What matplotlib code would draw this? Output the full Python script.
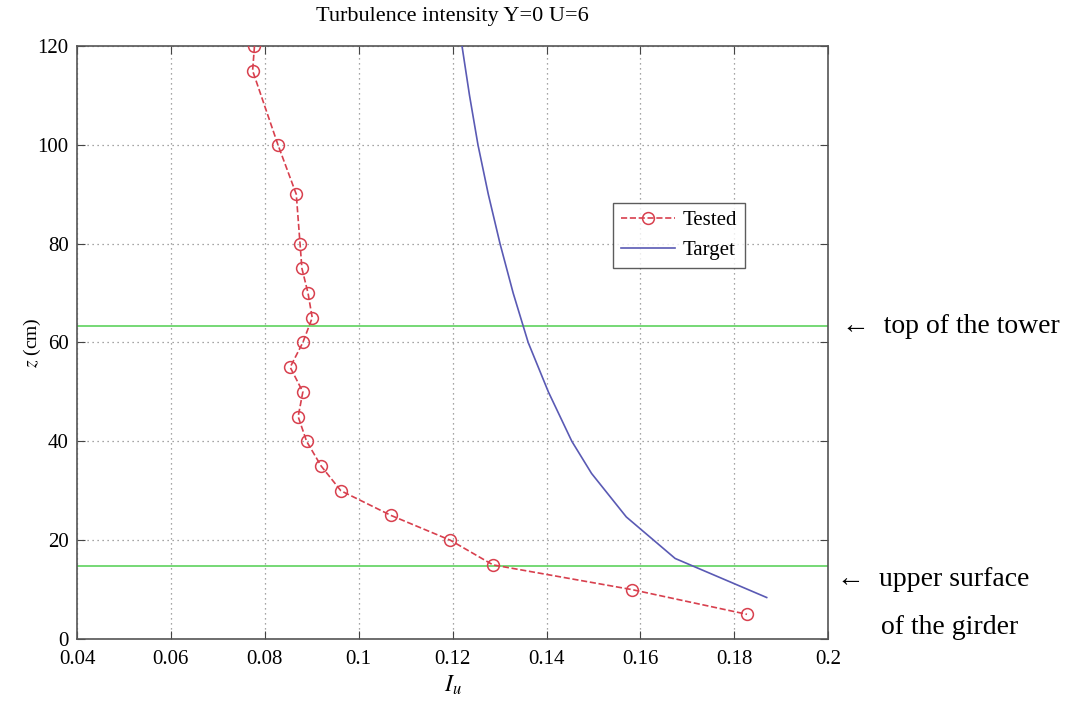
import matplotlib
matplotlib.use("Agg")
import matplotlib.pyplot as plt

# ── Data ──────────────────────────────────────────────────────────────────────
TESTED_Z  = [120, 115, 100, 90, 80, 75, 70, 65, 60, 55, 50, 45, 40, 35, 30, 25, 20, 15, 10, 5]
TESTED_IU = [0.0778, 0.0774, 0.0828, 0.0867, 0.0875, 0.0879, 0.0892, 0.0901, 0.0881, 0.0854,
             0.0881, 0.0871, 0.0889, 0.0920, 0.0962, 0.1069, 0.1195, 0.1286, 0.1582, 0.1827]

TARGET_Z  = [120, 110, 100, 90, 80, 70, 60, 50, 40, 33.5, 24.7, 16.3, 8.4]
TARGET_IU = [0.1220, 0.1236, 0.1254, 0.1276, 0.1301, 0.1329, 0.1361, 0.1404, 0.1454,
             0.1496, 0.1570, 0.1674, 0.1869]

TOWER_TOP_Z    = 63.3
GIRDER_SURF_Z  = 14.8

X_TICKS = [0.04, 0.06, 0.08, 0.1, 0.12, 0.14, 0.16, 0.18, 0.2]
X_TICK_LABELS = ["0.04", "0.06", "0.08", "0.1", "0.12", "0.14", "0.16", "0.18", "0.2"]
Y_TICKS = [0, 20, 40, 60, 80, 100, 120]

TESTED_COLOR = "#d8404e"
TARGET_COLOR = "#5a5ab4"
GREEN        = "#6ad66a"

plt.rcParams["font.family"] = ["Liberation Serif", "DejaVu Serif"]
plt.rcParams["mathtext.fontset"] = "stix"

fig = plt.figure(figsize=(10.88, 7.04), dpi=100)
ax = fig.add_axes([0.0708, 0.0923, 0.6904, 0.8424])

ax.plot(TESTED_IU, TESTED_Z, linestyle="--", color=TESTED_COLOR, lw=1.2,
        marker="o", markersize=8.5, markerfacecolor="none",
        markeredgecolor=TESTED_COLOR, markeredgewidth=1.1, label="Tested", zorder=3)
ax.plot(TARGET_IU, TARGET_Z, color=TARGET_COLOR, lw=1.2, label="Target", zorder=3)

ax.axhline(TOWER_TOP_Z, color=GREEN, lw=1.3, zorder=2)
ax.axhline(GIRDER_SURF_Z, color=GREEN, lw=1.3, zorder=2)

ax.set_xlim(0.04, 0.2)
ax.set_ylim(0, 120)
ax.set_xticks(X_TICKS)
ax.set_xticklabels(X_TICK_LABELS)
ax.set_yticks(Y_TICKS)
ax.tick_params(direction="in", top=True, right=True, labelsize=15,
               length=6, color="#444444")
ax.tick_params(axis="x", pad=8)
ax.tick_params(axis="y", pad=6)
ax.grid(True, linestyle=(0, (1, 3)), color="#888888", lw=0.9)
for s in ax.spines.values():
    s.set_color("#555555")
    s.set_linewidth(1.2)

ax.set_title("Turbulence intensity Y=0 U=6", fontsize=16, pad=18)
ax.set_xlabel(r"$I_u$", fontsize=17, labelpad=3)
ax.set_ylabel(r"$z$ (cm)", fontsize=14)
ax.yaxis.set_label_coords(-0.045, 0.5)

leg = ax.legend(loc="upper left", bbox_to_anchor=(0.700, 0.752), fontsize=15,
                frameon=True, fancybox=False, edgecolor="#333333",
                handlelength=2.6, borderpad=0.35, labelspacing=0.5, handletextpad=0.4)
leg.get_frame().set_linewidth(1.0)

# annotations outside the axes
fig.text(0.774, 1 - 326 / 704, "\u2190  top of the tower", fontsize=20,
         va="center", ha="left")
fig.text(0.769, 1 - 580 / 704, "\u2190", fontsize=20, va="center", ha="left")
fig.text(0.808, 1 - 580 / 704, "upper surface", fontsize=20, va="center", ha="left")
fig.text(0.810, 1 - 628 / 704, "of the girder", fontsize=20, va="center", ha="left")

fig.savefig("out.png", dpi=100)
